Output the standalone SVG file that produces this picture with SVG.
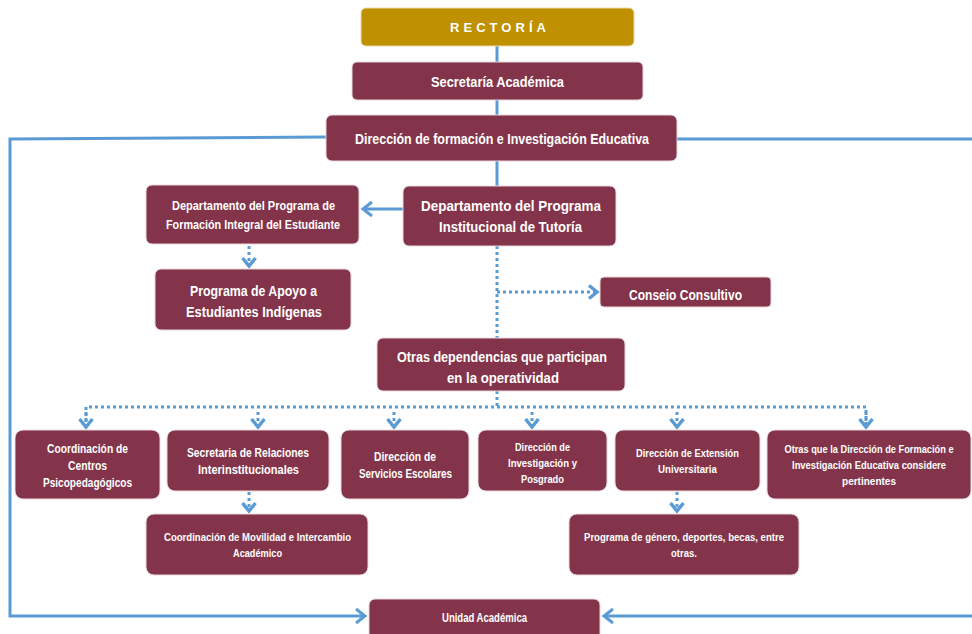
<svg xmlns="http://www.w3.org/2000/svg" width="972" height="634" viewBox="0 0 972 634">
<defs>
<marker id="ah" markerWidth="14" markerHeight="18" refX="11" refY="9" orient="auto" markerUnits="userSpaceOnUse"><path d="M2,2 L11,9 L2,16" fill="none" stroke="#5B9BD5" stroke-width="3"/></marker>
<marker id="ahd" markerWidth="14" markerHeight="18" refX="10" refY="8" orient="auto" markerUnits="userSpaceOnUse"><path d="M2,1.5 L10,8 L2,14.5" fill="none" stroke="#5B9BD5" stroke-width="3.5"/></marker>
</defs>
<style>
.b{fill:#84344A;stroke:#E6D6DA;stroke-width:1}
.g{fill:#BF9000;stroke:#E8D9A8;stroke-width:1}
text{font-family:"Liberation Sans",Arial,sans-serif;font-weight:bold;fill:#FFFFFF;text-anchor:middle}
.s{fill:none;stroke:#5B9BD5;stroke-width:3}
.d{fill:none;stroke:#5B9BD5;stroke-width:3;stroke-dasharray:3 3}
</style>
<rect width="972" height="634" fill="#FFFFFF"/>
<g id="connectors">
<path class="s" d="M497,46 V186"/>
<path class="s" d="M326,137 L10,139 V616 H365" marker-end="url(#ah)"/>
<path class="s" d="M677,139 H980 V616 H604" marker-end="url(#ah)"/>
<path class="s" d="M403,209 H363" marker-end="url(#ah)"/>
<path class="d" d="M249,246 V266" marker-end="url(#ahd)"/>
<path class="d" d="M497,246 V338"/>
<path class="d" d="M497,292 H597" marker-end="url(#ahd)"/>
<path class="d" d="M497,391 V407"/>
<path class="d" d="M86,428 V407 H866 V428" />
<path class="d" d="M86,412 V427" marker-end="url(#ahd)"/>
<path class="d" d="M258,412 V427" marker-end="url(#ahd)"/>
<path class="d" d="M394,412 V427" marker-end="url(#ahd)"/>
<path class="d" d="M532,412 V427" marker-end="url(#ahd)"/>
<path class="d" d="M677,412 V427" marker-end="url(#ahd)"/>
<path class="d" d="M866,412 V427" marker-end="url(#ahd)"/>
<path class="d" d="M249,492 V511" marker-end="url(#ahd)"/>
<path class="d" d="M677,492 V511" marker-end="url(#ahd)"/>
</g>
<g id="rectoria"><rect class="g" x="361" y="8" width="273" height="38" rx="5"/><text x="498" y="32" font-size="13" fill="#FFF8E8" textLength="96" lengthAdjust="spacing">RECTORÍA</text></g>
<g id="secretaria-academica"><rect class="b" x="352" y="62" width="291" height="38" rx="5"/><text x="497.5" y="87" font-size="15" textLength="133" lengthAdjust="spacingAndGlyphs">Secretaría  Académica</text></g>
<g id="direccion-formacion"><rect class="b" x="326" y="115" width="351" height="46" rx="6"/><text x="502" y="144" font-size="15" textLength="294" lengthAdjust="spacingAndGlyphs">Dirección de formación e Investigación Educativa</text></g>
<g id="depto-formacion-integral"><rect class="b" x="146" y="185" width="213" height="59" rx="6"/><text x="253.5" y="210" font-size="12" textLength="163" lengthAdjust="spacingAndGlyphs">Departamento  del Programa  de</text><text x="253" y="229" font-size="12" textLength="174" lengthAdjust="spacingAndGlyphs">Formación Integral del Estudiante</text></g>
<g id="depto-tutoria"><rect class="b" x="403" y="186" width="213" height="60" rx="6"/><text x="511" y="211" font-size="15" textLength="180" lengthAdjust="spacingAndGlyphs">Departamento  del Programa</text><text x="510.5" y="232" font-size="15" textLength="143" lengthAdjust="spacingAndGlyphs">Institucional de Tutoría</text></g>
<g id="programa-apoyo"><rect class="b" x="155" y="269" width="196" height="61" rx="6"/><text x="253.5" y="296" font-size="15" textLength="127" lengthAdjust="spacingAndGlyphs">Programa de Apoyo a</text><text x="254" y="317" font-size="15" textLength="136" lengthAdjust="spacingAndGlyphs">Estudiantes Indígenas</text></g>
<g id="consejo-consultivo"><rect class="b" x="600" y="277" width="171" height="30" rx="4"/><text x="685.5" y="300" font-size="14" textLength="113" lengthAdjust="spacingAndGlyphs">Conseio Consultivo</text></g>
<g id="otras-dependencias"><rect class="b" x="377" y="338" width="248" height="53" rx="6"/><text x="502" y="362" font-size="15" textLength="210" lengthAdjust="spacingAndGlyphs">Otras  dependencias que participan</text><text x="503" y="383" font-size="15" textLength="112" lengthAdjust="spacingAndGlyphs">en la operatividad</text></g>
<g id="coord-centros"><rect class="b" x="15" y="430" width="145" height="69" rx="8"/><text x="87.5" y="453" font-size="12" textLength="81" lengthAdjust="spacingAndGlyphs">Coordinación de</text><text x="87.5" y="470" font-size="12" textLength="39" lengthAdjust="spacingAndGlyphs">Centros</text><text x="87.5" y="487" font-size="12" textLength="89" lengthAdjust="spacingAndGlyphs">Psicopedagógicos</text></g>
<g id="secretaria-relaciones"><rect class="b" x="167" y="430" width="162" height="61" rx="8"/><text x="248" y="457" font-size="12" textLength="122" lengthAdjust="spacingAndGlyphs">Secretaria de Relaciones</text><text x="248.5" y="474" font-size="12" textLength="101" lengthAdjust="spacingAndGlyphs">Interinstitucionales</text></g>
<g id="servicios-escolares"><rect class="b" x="341" y="430" width="128" height="69" rx="8"/><text x="405" y="461" font-size="12" textLength="62" lengthAdjust="spacingAndGlyphs">Dirección de</text><text x="405.5" y="478" font-size="12" textLength="93" lengthAdjust="spacingAndGlyphs">Servicios Escolares</text></g>
<g id="investigacion-posgrado"><rect class="b" x="478" y="430" width="129" height="61" rx="8"/><text x="542.5" y="451" font-size="11" textLength="55" lengthAdjust="spacingAndGlyphs">Dirección de</text><text x="542.5" y="467" font-size="11" textLength="69" lengthAdjust="spacingAndGlyphs">Investigación y</text><text x="542.5" y="483" font-size="11" textLength="43" lengthAdjust="spacingAndGlyphs">Posgrado</text></g>
<g id="extension-universitaria"><rect class="b" x="615" y="430" width="145" height="61" rx="8"/><text x="687.5" y="457" font-size="11" textLength="103" lengthAdjust="spacingAndGlyphs">Dirección de Extensión</text><text x="687.5" y="473" font-size="11" textLength="59" lengthAdjust="spacingAndGlyphs">Universitaria</text></g>
<g id="otras-direccion"><rect class="b" x="767" y="430" width="204" height="69" rx="8"/><g transform="translate(869,0) scale(0.78,1)"><text x="0" y="453" font-size="11" textLength="216.7" lengthAdjust="spacingAndGlyphs">Otras que la Dirección de Formación e</text><text x="0" y="469" font-size="11" textLength="197.4" lengthAdjust="spacingAndGlyphs">Investigación Educativa considere</text><text x="0" y="485" font-size="11" textLength="69.2" lengthAdjust="spacingAndGlyphs">pertinentes</text></g></g>
<g id="coord-movilidad"><rect class="b" x="146" y="514" width="222" height="61" rx="8"/><text x="257.5" y="541" font-size="11" textLength="187" lengthAdjust="spacingAndGlyphs">Coordinación de Movilidad e Intercambio</text><text x="257.5" y="557" font-size="11" textLength="49" lengthAdjust="spacingAndGlyphs">Académico</text></g>
<g id="programa-genero"><rect class="b" x="569" y="514" width="230" height="61" rx="8"/><text x="684" y="541" font-size="11" textLength="200" lengthAdjust="spacingAndGlyphs">Programa de género, deportes, becas, entre</text><text x="684" y="557" font-size="11" textLength="26" lengthAdjust="spacingAndGlyphs">otras.</text></g>
<g id="unidad-academica"><rect class="b" x="369" y="599" width="231" height="45" rx="6"/><text x="484.5" y="622" font-size="12" textLength="85" lengthAdjust="spacingAndGlyphs">Unidad Académica</text></g>
</svg>
